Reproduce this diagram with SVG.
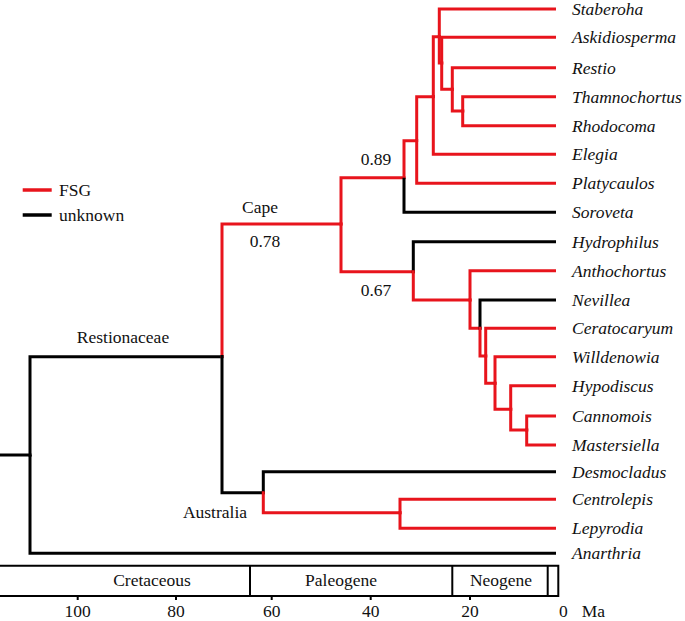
<svg xmlns="http://www.w3.org/2000/svg" width="685" height="621" viewBox="0 0 685 621">
<style>
.e{fill:none;stroke-width:3;stroke-linecap:butt;stroke-linejoin:miter}
.r{stroke:#e8141c}
.k{stroke:#000}
.t{font-size:17.5px;fill:#111}
.i{font-style:italic}
.m{text-anchor:middle}
.ax{fill:none;stroke:#000;stroke-width:2}
</style>
<rect width="685" height="621" fill="#fff"/>
<g id="connectors">
<path class="e k" d="M0 455 H31.5"/>
<path class="e k" d="M30 456.5 V356.7 H223.5"/>
<path class="e k" d="M30 455 V553.3 H556"/>
<path class="e r" d="M222 358 V224 H342.5"/>
<path class="e k" d="M222 355 V492.7 H264.8"/>
<path class="e r" d="M341 225.5 V177.7 H405.5"/>
<path class="e r" d="M341 222.5 V271.7 H414.8"/>
<path class="e r" d="M404 179 V140.7 H418"/>
<path class="e k" d="M404 177.7 V212.3 H556"/>
<path class="e r" d="M416.7 142 V96.7 H434.8"/>
<path class="e r" d="M416.7 139 V183.3 H556"/>
<path class="e r" d="M433.3 98 V36.7 H440.8"/>
<path class="e r" d="M433.3 95 V154.3 H556"/>
<path class="e r" d="M439.3 38 V9 H556"/>
<path class="e r" d="M439.3 35 V63 H443.2"/>
<path class="e r" d="M441.7 64.5 V37.3 H556"/>
<path class="e r" d="M441.7 61.5 V89.3 H453.8"/>
<path class="e r" d="M452.3 90.8 V67.7 H556"/>
<path class="e r" d="M452.3 87.8 V111 H464.2"/>
<path class="e r" d="M462.7 112.5 V96.7 H556"/>
<path class="e r" d="M462.7 109.5 V125.7 H556"/>
<path class="e k" d="M413.3 273.2 V241.7 H556"/>
<path class="e r" d="M413.3 270.2 V300 H471.5"/>
<path class="e r" d="M470 301.5 V270.7 H556"/>
<path class="e r" d="M470 298.5 V328.3 H481.5"/>
<path class="e k" d="M480 329.8 V300 H556"/>
<path class="e r" d="M480 326.8 V356 H487.2"/>
<path class="e r" d="M485.7 357.5 V328.3 H556"/>
<path class="e r" d="M485.7 354.5 V383.3 H496.5"/>
<path class="e r" d="M495 384.8 V356.7 H556"/>
<path class="e r" d="M495 381.8 V409.3 H512.2"/>
<path class="e r" d="M510.7 410.8 V385.7 H556"/>
<path class="e r" d="M510.7 407.8 V430 H528.2"/>
<path class="e r" d="M526.7 431.5 V416 H556"/>
<path class="e r" d="M526.7 428.5 V445 H556"/>
<path class="e k" d="M263.3 494.2 V471.7 H556"/>
<path class="e r" d="M263.3 491.2 V512.7 H401.5"/>
<path class="e r" d="M400 514.2 V499.3 H556"/>
<path class="e r" d="M400 511.2 V528.3 H556"/>
</g>
<g font-family="'Liberation Serif', 'DejaVu Serif', 'Times New Roman', serif">
<g id="legend">
<path class="e r" d="M22.7 190 H51.7" style="stroke-width:3.5"/>
<text class="t" x="59" y="196">FSG</text>
<path class="e k" d="M22.7 215 H51.7" style="stroke-width:3.5"/>
<text class="t" x="59" y="221">unknown</text>
</g>
<g id="clade-labels">
<text class="t m" x="123" y="343">Restionaceae</text>
<text class="t m" x="260" y="213">Cape</text>
<text class="t m" x="265" y="247">0.78</text>
<text class="t m" x="376" y="165">0.89</text>
<text class="t m" x="376" y="296">0.67</text>
<text class="t m" x="215" y="518">Australia</text>
</g>
<g id="tips">
<g id="Staberoha"><text class="t i" x="572" y="15">Staberoha</text></g>
<g id="Askidiosperma"><text class="t i" x="572" y="43.3">Askidiosperma</text></g>
<g id="Restio"><text class="t i" x="572" y="73.7">Restio</text></g>
<g id="Thamnochortus"><text class="t i" x="572" y="102.7">Thamnochortus</text></g>
<g id="Rhodocoma"><text class="t i" x="572" y="131.7">Rhodocoma</text></g>
<g id="Elegia"><text class="t i" x="572" y="160.3">Elegia</text></g>
<g id="Platycaulos"><text class="t i" x="572" y="189.3">Platycaulos</text></g>
<g id="Soroveta"><text class="t i" x="572" y="218.3">Soroveta</text></g>
<g id="Hydrophilus"><text class="t i" x="572" y="247.7">Hydrophilus</text></g>
<g id="Anthochortus"><text class="t i" x="572" y="276.7">Anthochortus</text></g>
<g id="Nevillea"><text class="t i" x="572" y="306">Nevillea</text></g>
<g id="Ceratocaryum"><text class="t i" x="572" y="334.3">Ceratocaryum</text></g>
<g id="Willdenowia"><text class="t i" x="572" y="362.7">Willdenowia</text></g>
<g id="Hypodiscus"><text class="t i" x="572" y="391.7">Hypodiscus</text></g>
<g id="Cannomois"><text class="t i" x="572" y="422">Cannomois</text></g>
<g id="Mastersiella"><text class="t i" x="572" y="451">Mastersiella</text></g>
<g id="Desmocladus"><text class="t i" x="572" y="477.7">Desmocladus</text></g>
<g id="Centrolepis"><text class="t i" x="572" y="505.3">Centrolepis</text></g>
<g id="Lepyrodia"><text class="t i" x="572" y="534.3">Lepyrodia</text></g>
<g id="Anarthria"><text class="t i" x="572" y="559.3">Anarthria</text></g>
</g>
<g id="timescale">
<path class="ax" d="M0 565.7 H558.3 V596 H0"/>
<path class="ax" d="M250 565.7 V596 M452.3 565.7 V596 M547.7 565.7 V596"/>
<path class="ax" d="M77.7 596 V600 M176 596 V600 M271.7 596 V600 M370.7 596 V600 M470 596 V600"/>
<text class="t m" x="152" y="585.5">Cretaceous</text>
<text class="t m" x="341" y="585.5">Paleogene</text>
<text class="t m" x="501" y="585.5">Neogene</text>
<text class="t m" x="77.7" y="616.5">100</text>
<text class="t m" x="176" y="616.5">80</text>
<text class="t m" x="271.7" y="616.5">60</text>
<text class="t m" x="370.7" y="616.5">40</text>
<text class="t m" x="470" y="616.5">20</text>
<text class="t m" x="563.3" y="616.5">0</text>
<text class="t" x="581.7" y="616.5">Ma</text>
</g>
</g>
</svg>
